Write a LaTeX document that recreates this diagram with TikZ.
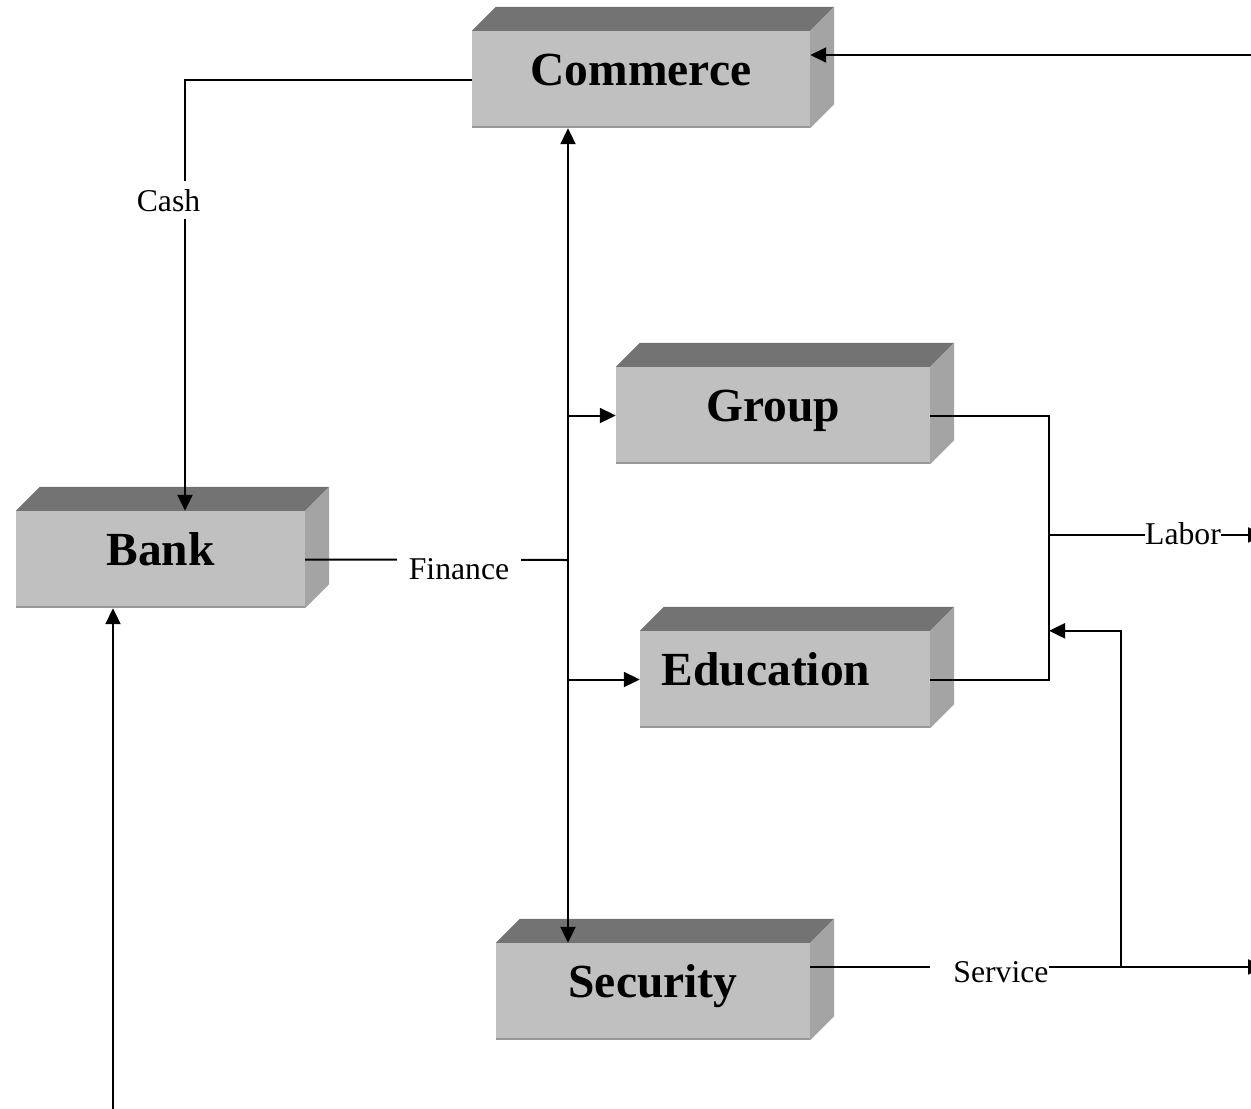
\documentclass[tikz,border=0pt]{standalone}
\usepackage{fontspec}
\setmainfont{Liberation Serif}
\usetikzlibrary{arrows.meta}
\definecolor{frontgray}{HTML}{C0C0C0}
\definecolor{topgray}{HTML}{737373}
\definecolor{sidegray}{HTML}{A4A4A4}
\definecolor{edgegray}{HTML}{999999}
\tikzset{
  cube/.style={rectangle, fill=frontgray, inner sep=0pt, minimum height=97pt,
    font=\fontsize{47.5}{50}\selectfont\bfseries},
  conn/.style={line width=2pt, black},
  tip/.style={-{Triangle[length=16pt,width=15pt]}},
  lbl/.style={fill=white, inner ysep=3pt, inner xsep=0pt, anchor=base,
    font=\fontsize{31.7}{34}\selectfont}
}
\newcommand\cubesides[1]{%
  \fill[topgray] (#1.north west) -- ++(24,-24) -- ([shift={(24,-24)}]#1.north east) -- (#1.north east) -- cycle;
  \fill[sidegray] (#1.north east) -- ++(24,-24) -- ([shift={(24,-24)}]#1.south east) -- (#1.south east) -- cycle;
  \draw[edgegray, line width=2pt] ([yshift=1pt]#1.south west) -- ([yshift=1pt]#1.south east);
}
\newcommand\cubetext[1]{\raisebox{-6pt}[0pt][0pt]{#1}}
\begin{document}
\begin{tikzpicture}[x=1pt,y=-1pt]
\useasboundingbox (0,0) rectangle (1251,1109);
\clip (0,0) rectangle (1251,1109);
\fill[white] (0,0) rectangle (1251,1109);

% boxes
\node[cube, minimum width=338pt] (commerce) at (641,79.5) {\cubetext{Commerce}};
\node[cube, minimum width=314pt] (group) at (773,415.5) {\cubetext{Group}};
\node[cube, minimum width=289pt] (bank) at (160.5,559.5) {\cubetext{Bank}};
\node[cube, minimum width=290pt] (edu) at (785,679.5) {\hspace*{-38pt}\cubetext{Education}};
\node[cube, minimum width=314pt] (security) at (653,991.5) {\cubetext{Security}};
\cubesides{commerce}
\cubesides{group}
\cubesides{bank}
\cubesides{edu}
\cubesides{security}

% helper coordinates
\coordinate (cashx) at (185,79.5);
\coordinate (trunk) at (568,560);
\coordinate (jx) at (1049,535);
\coordinate (svx) at (1121,967);
\coordinate (topEnd) at (1263,55);
\coordinate (laborEnd) at (1264,535);
\coordinate (serviceEnd) at (1264,967);
\coordinate (bankIn) at (113,1115);

% Cash
\draw[conn, tip] (commerce.west) -- (commerce.west -| cashx) -- (bank.north -| cashx);
\node[lbl, inner ysep=8pt] (cash) at (168.5,211) {Cash};

% top right arrow into Commerce
\draw[conn, tip] (topEnd) -- (topEnd -| commerce.east);

% trunk
\draw[conn, {Triangle[length=16pt,width=15pt]}-{Triangle[length=16pt,width=15pt]}]
  (commerce.south -| trunk) -- (security.north -| trunk);
\draw[conn, tip] (group.west -| trunk) -- (group.west);
\draw[conn, tip] (edu.west -| trunk) -- (edu.west);

% Finance
\draw[conn] (bank.east) -- (trunk);
\node[lbl, inner xsep=12pt] (finance) at (459,579) {Finance};

% Group/Education to Labor
\draw[conn] (group.east) -- (group.east -| jx) -- (edu.east -| jx) -- (edu.east);
\draw[conn, tip] (jx) -- (laborEnd);
\node[lbl] (labor) at (1183,544) {Labor};

% Service
\draw[conn] ([yshift=24.5pt]security.east) -- (930,967);
\node[lbl, fill=none, inner ysep=0pt] (service) at (1001,982) {Service};
\draw[conn, tip] (service.east |- svx) -- (serviceEnd);
\draw[conn, tip] (svx) -- (svx |- edu.north) -- (edu.north -| jx);

% Bank bottom input
\draw[conn, tip] (bankIn) -- (bank.south -| bankIn);
\end{tikzpicture}
\end{document}
